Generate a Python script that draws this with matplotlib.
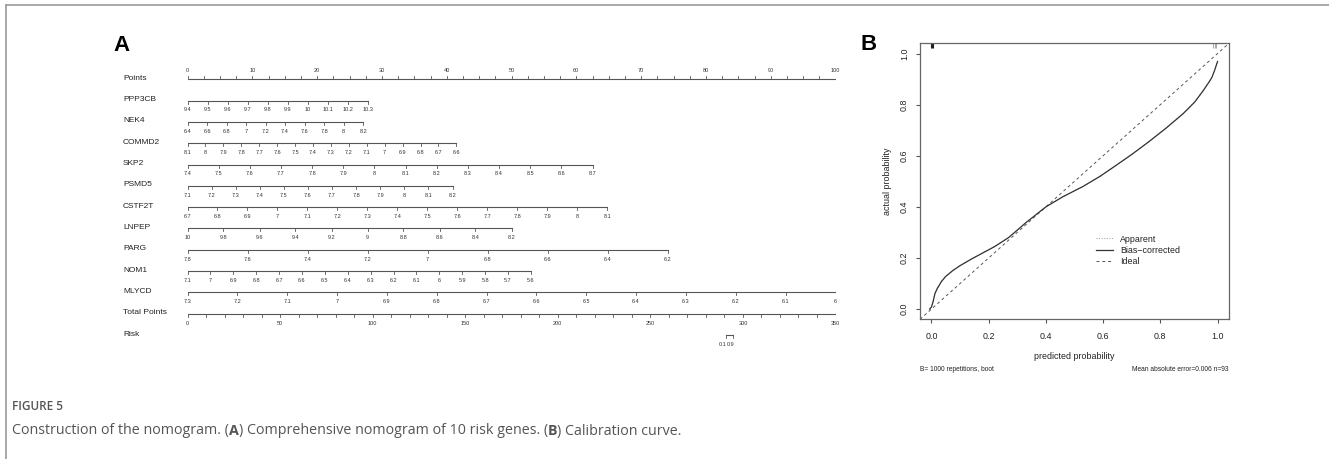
import matplotlib
matplotlib.use('Agg')
import matplotlib.pyplot as plt
from matplotlib.lines import Line2D
import matplotlib.transforms as mtransforms

plt.rcParams['font.family'] = ['Liberation Sans', 'DejaVu Sans']

W, H, DPI = 1329, 459, 100

# ---------------- nomogram data ----------------
points_labels = [0, 10, 20, 30, 40, 50, 60, 70, 80, 90, 100]
points_minor = [0, 2.5, 5, 7.5, 10, 12.5, 15, 17.5, 20, 22.5, 25, 27.5, 30, 32.5, 35, 37.5,
                40, 42.5, 45, 47.5, 50, 52.5, 55, 57.5, 60, 62.5, 65, 67.5, 70, 72.5, 75, 77.5,
                80, 82.5, 85, 87.5, 90, 92.5, 95, 97.5, 100]

ppp3cb_vals = [9.4, 9.5, 9.6, 9.7, 9.8, 9.9, 10, 10.1, 10.2, 10.3]
ppp3cb_pts = 27.9
nek4_vals = [6.4, 6.6, 6.8, 7, 7.2, 7.4, 7.6, 7.8, 8, 8.2]
nek4_pts = 27.1
commd2_vals = [8.1, 8, 7.9, 7.8, 7.7, 7.6, 7.5, 7.4, 7.3, 7.2, 7.1, 7, 6.9, 6.8, 6.7, 6.6]
commd2_pts = 41.5
skp2_vals = [7.4, 7.5, 7.6, 7.7, 7.8, 7.9, 8, 8.1, 8.2, 8.3, 8.4, 8.5, 8.6, 8.7]
skp2_pts = 62.5
psmd5_vals = [7.1, 7.2, 7.3, 7.4, 7.5, 7.6, 7.7, 7.8, 7.9, 8, 8.1, 8.2]
psmd5_pts = 40.9
cstf2t_vals = [6.7, 6.8, 6.9, 7, 7.1, 7.2, 7.3, 7.4, 7.5, 7.6, 7.7, 7.8, 7.9, 8, 8.1]
cstf2t_pts = 64.8
lnpep_vals = [10, 9.8, 9.6, 9.4, 9.2, 9, 8.8, 8.6, 8.4, 8.2]
lnpep_pts = 50.0
parg_vals = [7.8, 7.6, 7.4, 7.2, 7, 6.8, 6.6, 6.4, 6.2]
parg_pts = 74.1
nom1_vals = [7.1, 7, 6.9, 6.8, 6.7, 6.6, 6.5, 6.4, 6.3, 6.2, 6.1, 6, 5.9, 5.8, 5.7, 5.6]
nom1_pts = 53.0
mlycd_vals = [7.3, 7.2, 7.1, 7, 6.9, 6.8, 6.7, 6.6, 6.5, 6.4, 6.3, 6.2, 6.1, 6]
mlycd_pts = 100.0

total_labels = [0, 50, 100, 150, 200, 250, 300, 350]
total_minor = [0, 10, 20, 30, 40, 50, 60, 70, 80, 90, 100, 110, 120, 130, 140, 150, 160, 170,
               180, 190, 200, 210, 220, 230, 240, 250, 260, 270, 280, 290, 300, 310, 320, 330,
               340, 350]
risk_vals = [0.1, 0.9]
risk_total_pts = [290.9, 294.6]

# ---------------- calibration data ----------------
pred_prob = [-0.006, 0.0, 0.006, 0.012, 0.02, 0.035, 0.05, 0.075, 0.10, 0.14, 0.18, 0.22,
             0.27, 0.33, 0.40, 0.46, 0.53, 0.59, 0.65, 0.70, 0.76, 0.82, 0.88, 0.92, 0.95,
             0.97, 0.98, 0.99, 1.0]
bias_corrected = [0.0, 0.008, 0.03, 0.06, 0.08, 0.108, 0.128, 0.151, 0.17, 0.196, 0.22, 0.244,
                  0.28, 0.338, 0.40, 0.44, 0.48, 0.52, 0.566, 0.605, 0.655, 0.708, 0.765,
                  0.81, 0.855, 0.888, 0.906, 0.935, 0.969]
apparent = [0.0, 0.008, 0.03, 0.06, 0.08, 0.108, 0.128, 0.151, 0.17, 0.196, 0.22, 0.244,
            0.28, 0.338, 0.40, 0.44, 0.48, 0.52, 0.566, 0.605, 0.655, 0.708, 0.765,
            0.81, 0.855, 0.888, 0.906, 0.935, 0.969]
rug_low = [-0.002, 0.001, 0.004]
rug_high = [0.985, 0.99, 0.995]
cal_ticks = [0.0, 0.2, 0.4, 0.6, 0.8, 1.0]

fig = plt.figure(figsize=(W / DPI, H / DPI), dpi=DPI)


def fx(px):
    return px / W


def fy(py):
    return 1 - py / H


# border of the figure panel
fig.add_artist(Line2D([fx(6), 1], [fy(5), fy(5)], color='#9a9a9a', lw=1.2))
fig.add_artist(Line2D([fx(6), fx(6)], [fy(5), 0], color='#9a9a9a', lw=1.2))

# ---------------- nomogram ----------------
row_y0, row_dy = 79.3, 21.31
ylo, yhi = -1, 13
top_px = row_y0 + ylo * row_dy
bot_px = row_y0 + yhi * row_dy
x0_px, x1_px = 187.5, 835.5
rect = [fx(x0_px), fy(bot_px), (x1_px - x0_px) / W, (bot_px - top_px) / H]
axp = fig.add_axes(rect, label='points')
axp.set_xlim(0, 100)
axp.set_ylim(yhi, ylo)
axp.axis('off')
axt = fig.add_axes(rect, label='total')
axt.set_xlim(0, 350)
axt.set_ylim(yhi, ylo)
axt.axis('off')

tl = 3.0 / row_dy
lo = 9.3 / row_dy
line_col = '#555555'
txt_col = '#333333'
tick_fs = 4.0
name_fs = 6.0

row_names = ['Points', 'PPP3CB', 'NEK4', 'COMMD2', 'SKP2', 'PSMD5', 'CSTF2T', 'LNPEP',
             'PARG', 'NOM1', 'MLYCD', 'Total Points', 'Risk']
name_tr = mtransforms.blended_transform_factory(fig.transFigure, axp.transData)
for i, nm in enumerate(row_names):
    axp.text(fx(123), i - 1.0 / row_dy, nm, transform=name_tr, ha='left', va='center',
             fontsize=name_fs, color='#222222')


def fmt(v):
    return '%g' % v


# Points row (ticks and labels above)
axp.plot([0, 100], [0, 0], color=line_col, lw=0.8, solid_capstyle='butt')
for t in points_minor:
    axp.plot([t, t], [0, -tl], color=line_col, lw=0.6)
for t in points_labels:
    axp.text(t, -8.6 / row_dy, fmt(t), ha='center', va='center', fontsize=tick_fs, color=txt_col)

variables = [(ppp3cb_vals, ppp3cb_pts), (nek4_vals, nek4_pts), (commd2_vals, commd2_pts),
             (skp2_vals, skp2_pts), (psmd5_vals, psmd5_pts), (cstf2t_vals, cstf2t_pts),
             (lnpep_vals, lnpep_pts), (parg_vals, parg_pts), (nom1_vals, nom1_pts),
             (mlycd_vals, mlycd_pts)]
for r, (vals, mx) in enumerate(variables, start=1):
    v0, v1 = vals[0], vals[-1]
    xs = [mx * (v - v0) / (v1 - v0) for v in vals]
    axp.plot([xs[0], xs[-1]], [r, r], color=line_col, lw=0.8)
    for x, v in zip(xs, vals):
        axp.plot([x, x], [r, r + tl], color=line_col, lw=0.6)
        axp.text(x, r + lo, fmt(v), ha='center', va='center', fontsize=tick_fs, color=txt_col)

# Total points row
r = 11
axt.plot([0, 350], [r, r], color=line_col, lw=0.8)
for t in total_minor:
    axt.plot([t, t], [r, r + tl], color=line_col, lw=0.6)
for t in total_labels:
    axt.text(t, r + 10.0 / row_dy, fmt(t), ha='center', va='center', fontsize=tick_fs, color=txt_col)

# Risk row
r = 12
axt.plot([risk_total_pts[0], risk_total_pts[-1]], [r, r], color=line_col, lw=0.8)
for x, v in zip(risk_total_pts, risk_vals):
    axt.plot([x, x], [r, r + tl], color=line_col, lw=0.6)
axt.text(risk_total_pts[0] + 0.3, r + lo, fmt(risk_vals[0]), ha='right', va='center',
         fontsize=tick_fs, color=txt_col)
axt.text(risk_total_pts[0] + 0.3, r + lo, fmt(risk_vals[1]), ha='left', va='center',
         fontsize=tick_fs, color=txt_col)

# panel letters
fig.text(fx(121.7), fy(45.5), 'A', ha='center', va='center', fontsize=16, fontweight='bold')
fig.text(fx(869), fy(44), 'B', ha='center', va='center', fontsize=16, fontweight='bold')

# ---------------- calibration ----------------
axc = fig.add_axes([fx(920), fy(319.3), (1229 - 920) / W, (319.3 - 43.3) / H])
axc.set_xlim(-0.04, 1.04)
axc.set_ylim(-0.04, 1.04)
for s in axc.spines.values():
    s.set_color('#666666')
    s.set_linewidth(0.9)
axc.axline((0, 0), (1, 1), ls=(0, (3, 3)), color='#555555', lw=0.7)
axc.plot(pred_prob, apparent, ls=':', color='#999999', lw=0.7, label='Apparent')
axc.plot(pred_prob, bias_corrected, ls='-', color='#333333', lw=0.9, label='Bias\u2212corrected')
axc.plot([], [], ls=(0, (3, 3)), color='#555555', lw=0.7, label='Ideal')
axc.vlines(rug_low, 1.02, 1.04, color='#222222', lw=0.8)
axc.vlines(rug_high, 1.02, 1.04, color='#aaaaaa', lw=0.8)
axc.set_xticks(cal_ticks)
axc.set_xticklabels(['%.1f' % t for t in cal_ticks])
axc.set_yticks(cal_ticks)
axc.set_yticklabels(['%.1f' % t for t in cal_ticks], rotation=90, va='center')
axc.tick_params(length=3, width=0.8, color='#555555', labelsize=6.4, labelcolor='#222222')
axc.tick_params(axis='x', pad=6)
axc.tick_params(axis='y', pad=5)
axc.set_xlabel('predicted probability', fontsize=6.4, color='#222222', labelpad=8)
axc.set_ylabel('actual probability', fontsize=6.4, color='#222222', labelpad=6)
axc.legend(loc='upper left', bbox_to_anchor=(fx(1096), fy(234.5)),
           bbox_transform=fig.transFigure, frameon=False, fontsize=6.4,
           handlelength=1.9, handletextpad=0.8, labelspacing=0.25, borderpad=0,
           borderaxespad=0, labelcolor='#222222')
fig.text(fx(920), fy(369.7), 'B= 1000 repetitions, boot', ha='left', va='center',
         fontsize=4.8, color='#222222')
fig.text(fx(1229), fy(369.7), 'Mean absolute error=0.006 n=93', ha='right', va='center',
         fontsize=4.8, color='#222222')

# ---------------- caption ----------------
cap_font = ['Open Sans', 'DejaVu Sans']
fig.text(fx(12), fy(407), 'FIGURE 5', ha='left', va='center', fontsize=8.5,
         family=cap_font, fontweight='semibold', color='#555555')
pieces = [('Construction of the nomogram. (', 'normal'), ('A', 'bold'),
          (') Comprehensive nomogram of 10 risk genes. (', 'normal'), ('B', 'bold'),
          (') Calibration curve.', 'normal')]
renderer = fig.canvas.get_renderer()
xpos = 12
for txt, wt in pieces:
    t = fig.text(fx(xpos), fy(431), txt, ha='left', va='center', fontsize=10.3,
                 family=cap_font, fontweight=wt, color='#555555')
    bb = t.get_window_extent(renderer=renderer)
    xpos = bb.x1

fig.savefig('out.png', dpi=DPI)
